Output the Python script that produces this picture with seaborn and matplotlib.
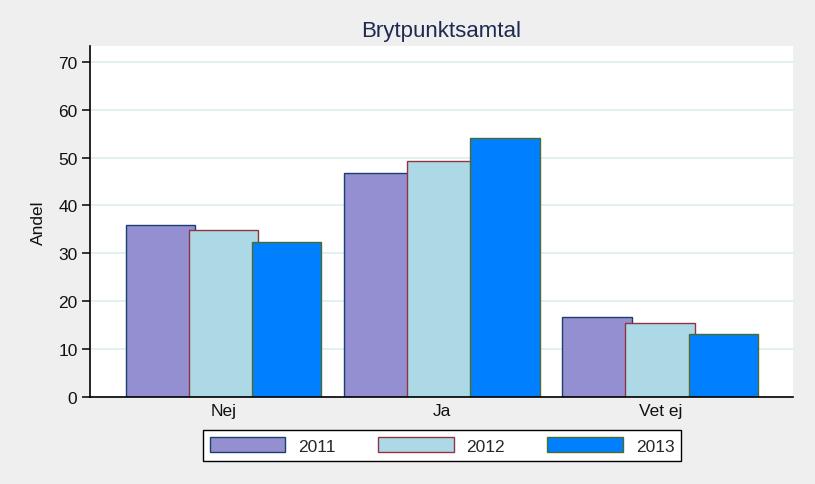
import matplotlib
matplotlib.use("Agg")
import matplotlib.pyplot as plt
import seaborn as sns
import pandas as pd
from matplotlib.patches import Patch

categories = ["Nej", "Ja", "Vet ej"]
years = ["2011", "2012", "2013"]
v2011 = [35.9, 46.8, 16.7]
v2012 = [34.9, 49.3, 15.5]
v2013 = [32.4, 54.1, 13.2]

fills = ["#938fd1", "#add8e6", "#0080ff"]
edges = ["#1a3f6f", "#8f3440", "#4f6b2a"]

rows = []
for yr, vals in zip(years, [v2011, v2012, v2013]):
    for c, v in zip(categories, vals):
        rows.append({"Kategori": c, "År": yr, "Andel": v})
df = pd.DataFrame(rows)

sns.set_theme(style="white")
plt.rcParams['font.family'] = ['Liberation Sans', 'DejaVu Sans']

fig = plt.figure(figsize=(8.15, 4.85), dpi=100)
fig.patch.set_facecolor("#efefef")
ax = fig.add_axes([90/815, 1-398/485, (793-90)/815, (398-47)/485])
ax.set_facecolor("white")

W = 0.8655
sns.barplot(data=df, x="Kategori", y="Andel", hue="År", order=categories,
            hue_order=years, palette=fills, width=W, dodge=True,
            errorbar=None, ax=ax, legend=False, saturation=1)

bw = 0.318
n = len(categories)
for i, p in enumerate(ax.patches[:n*len(years)]):
    h = i // n
    cx = p.get_x() + p.get_width()/2
    p.set_x(cx - bw/2)
    p.set_width(bw)
    p.set_edgecolor(edges[h])
    p.set_linewidth(1.0)
    p.set_zorder(2 + h)

ax.set_xlim(-0.611, 2.608)
ax.set_ylim(0, 73.3)
ax.set_yticks(range(0, 71, 10))
ax.yaxis.grid(True, color="#dcefee", linewidth=1.2, zorder=0)
ax.set_axisbelow(True)
for s in ["top", "right"]:
    ax.spines[s].set_visible(False)
for s in ["left", "bottom"]:
    ax.spines[s].set_color("black")
    ax.spines[s].set_linewidth(1.2)
    ax.spines[s].set_zorder(10)

fs = 12.5
ax.tick_params(axis="y", which="major", left=True, length=6, width=1.1,
               color="black", pad=3, labelsize=fs, labelcolor="#111111")
ax.tick_params(axis="x", bottom=False, length=0, pad=4, labelsize=fs,
               labelcolor="#111111")
ax.set_xlabel("")
ax.set_ylabel("Andel", fontsize=fs, color="#111111", labelpad=9)
ax.set_title("Brytpunktsamtal", fontsize=16, color="#1e2a50", pad=7)

handles = [Patch(facecolor=f, edgecolor=e, linewidth=1.0) for f, e in zip(fills, edges)]
leg = fig.legend(handles, years, ncol=3, loc="center",
                 bbox_to_anchor=((198+686)/2/815, 1-446.5/485),
                 fontsize=fs, frameon=True, fancybox=False, framealpha=1,
                 handlelength=4.37, handleheight=0.92, handletextpad=0.75,
                 columnspacing=2.4, borderpad=0.4, borderaxespad=0)
leg.get_frame().set_edgecolor("black")
leg.get_frame().set_linewidth(1.0)
leg.get_frame().set_facecolor("white")

fig.savefig("out.png", dpi=100, facecolor=fig.get_facecolor())
